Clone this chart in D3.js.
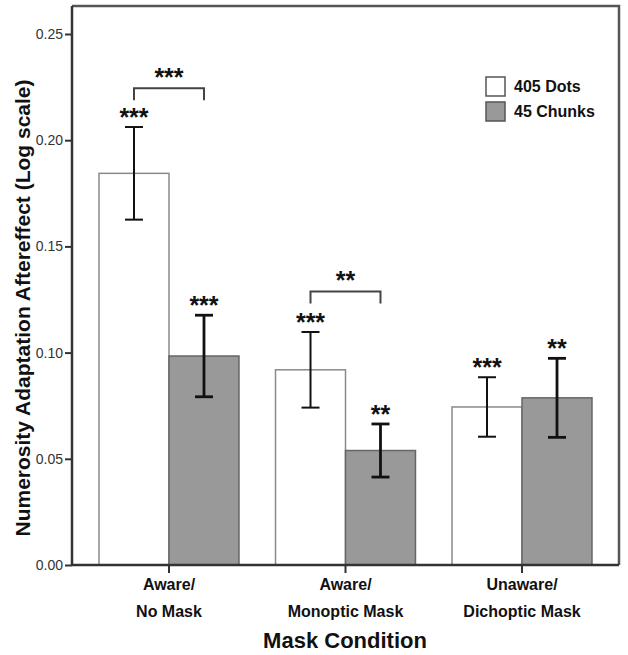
<!DOCTYPE html>
<html>
<head>
<meta charset="utf-8">
<script src="https://cdn.jsdelivr.net/npm/d3@7"></script>
<style>
  body { margin: 0; background: #fff; }
  svg { display: block; font-family: "Liberation Sans", Arial, sans-serif; }
</style>
</head>
<body>
<svg id="chart" width="628" height="655"></svg>
<script>
// ---- data ----
const categories = ["Aware/\nNo Mask", "Aware/\nMonoptic Mask", "Unaware/\nDichoptic Mask"];
const seriesNames = ["405 Dots", "45 Chunks"];
const dotsValues = [0.1844, 0.0919, 0.0744];
const chunksValues = [0.0984, 0.0539, 0.0787];
const dotsErrors = [0.0218, 0.0178, 0.0140];
const chunksErrors = [0.0192, 0.0125, 0.0186];
const dotsStars = ["***", "***", "***"];
const chunksStars = ["***", "**", "**"];
const brackets = [{ cat: 0, label: "***", value: 0.2245 }, { cat: 1, label: "**", value: 0.1288 }];
const yTicks = [0.00, 0.05, 0.10, 0.15, 0.20, 0.25];
const yTitle = "Numerosity Adaptation Aftereffect (Log scale)";
const xTitle = "Mask Condition";

(function () {
const svg = d3.select("#chart");
const pLeft = 72, pRight = 619, pTop = 6, pBottom = 565;

const x = d3.scaleBand().domain(categories).range([pLeft, pRight]).paddingInner(0.207).paddingOuter(0.153);
const xs = d3.scaleBand().domain(seriesNames).range([0, x.bandwidth()]);
const y = d3.scaleLinear().domain([0, 0.25]).range([pBottom, 34]);

const fills = ["#ffffff", "#999999"];
const data = [];
categories.forEach((c, i) => {
  data.push({ cat: c, s: seriesNames[0], v: dotsValues[i], e: dotsErrors[i], star: dotsStars[i], k: 0 });
  data.push({ cat: c, s: seriesNames[1], v: chunksValues[i], e: chunksErrors[i], star: chunksStars[i], k: 1 });
});

// bars
svg.append("g").selectAll("rect").data(data).join("rect")
  .attr("x", d => x(d.cat) + xs(d.s))
  .attr("y", d => y(d.v))
  .attr("width", xs.bandwidth())
  .attr("height", d => y(0) - y(d.v))
  .attr("fill", d => fills[d.k])
  .attr("stroke", d => d.k === 0 ? "#8a8a8a" : "#666")
  .attr("stroke-width", 1.5);

// error bars
const eg = svg.append("g").attr("stroke", "#111");
data.forEach(d => {
  const cx = x(d.cat) + xs(d.s) + xs.bandwidth() / 2;
  const sw = d.k === 0 ? 2 : 2.8;
  eg.append("line").attr("x1", cx).attr("x2", cx).attr("y1", y(d.v + d.e)).attr("y2", y(d.v - d.e)).attr("stroke-width", sw);
  [d.v + d.e, d.v - d.e].forEach(v => {
    eg.append("line").attr("x1", cx - 9).attr("x2", cx + 9).attr("y1", y(v)).attr("y2", y(v)).attr("stroke-width", sw);
  });
  svg.append("text").attr("x", cx).attr("y", y(d.v + d.e) - 1)
    .attr("text-anchor", "middle").attr("font-size", 25).attr("font-weight", "bold").attr("fill", "#111")
    .text(d.star);
});

// significance brackets
brackets.forEach(b => {
  const c = categories[b.cat];
  const x1 = x(c) + xs(seriesNames[0]) + xs.bandwidth() / 2;
  const x2 = x(c) + xs(seriesNames[1]) + xs.bandwidth() / 2;
  const by = y(b.value);
  svg.append("path").attr("d", `M${x1},${by + 12}V${by}H${x2}V${by + 12}`)
    .attr("fill", "none").attr("stroke", "#444").attr("stroke-width", 2);
  svg.append("text").attr("x", (x1 + x2) / 2).attr("y", by - 2)
    .attr("text-anchor", "middle").attr("font-size", 25).attr("font-weight", "bold").attr("fill", "#111")
    .text(b.label);
});

// frame (top & right)
svg.append("path").attr("d", `M${pLeft},${pTop}H${pRight}V${pBottom}`)
  .attr("fill", "none").attr("stroke", "#555").attr("stroke-width", 2.5);

// y axis
const yAxis = svg.append("g").attr("transform", `translate(${pLeft},0)`)
  .call(d3.axisLeft(y).tickValues(yTicks).tickFormat(d3.format(".2f")).tickSize(7).tickPadding(2));
yAxis.select(".domain").attr("stroke", "#333").attr("stroke-width", 2.5).attr("d", `M0,${pTop}V${pBottom}`);
yAxis.selectAll(".tick line").attr("stroke", "#333").attr("stroke-width", 2);
yAxis.selectAll(".tick text").attr("font-size", 14).attr("fill", "#333").attr("font-family", "'Liberation Sans', Arial, sans-serif");

// x axis
const xAxis = svg.append("g").attr("transform", `translate(0,${pBottom})`)
  .call(d3.axisBottom(x).tickSize(8).tickFormat(""));
xAxis.select(".domain").attr("stroke", "#333").attr("stroke-width", 2.5).attr("d", `M${pLeft},0H${pRight}`);
xAxis.selectAll(".tick line").attr("stroke", "#333").attr("stroke-width", 2);
xAxis.selectAll(".tick").each(function(d) {
  const lines = d.split("\n");
  const t = d3.select(this).append("text").attr("fill", "#111").attr("font-size", 16).attr("font-weight", "bold")
    .attr("text-anchor", "middle").attr("font-family", "'Liberation Sans', Arial, sans-serif");
  lines.forEach((l, i) => t.append("tspan").attr("x", 0).attr("y", 25 + i * 27).text(l));
});

// axis titles
svg.append("text").attr("transform", `translate(30,308) rotate(-90)`)
  .attr("text-anchor", "middle").attr("font-size", 21).attr("font-weight", "bold").attr("fill", "#111")
  .text(yTitle);
svg.append("text").attr("x", 345).attr("y", 648)
  .attr("text-anchor", "middle").attr("font-size", 22).attr("font-weight", "bold").attr("fill", "#111")
  .text(xTitle);

// legend
const lg = svg.append("g");
seriesNames.forEach((s, i) => {
  lg.append("rect").attr("x", 486).attr("y", 77 + i * 25).attr("width", 19).attr("height", 19)
    .attr("fill", fills[i]).attr("stroke", "#555").attr("stroke-width", 1.5);
  lg.append("text").attr("x", 514).attr("y", 92 + i * 25).attr("font-size", 16).attr("font-weight", "bold").attr("fill", "#111")
    .text(s);
});
})();
</script>
</body>
</html>
